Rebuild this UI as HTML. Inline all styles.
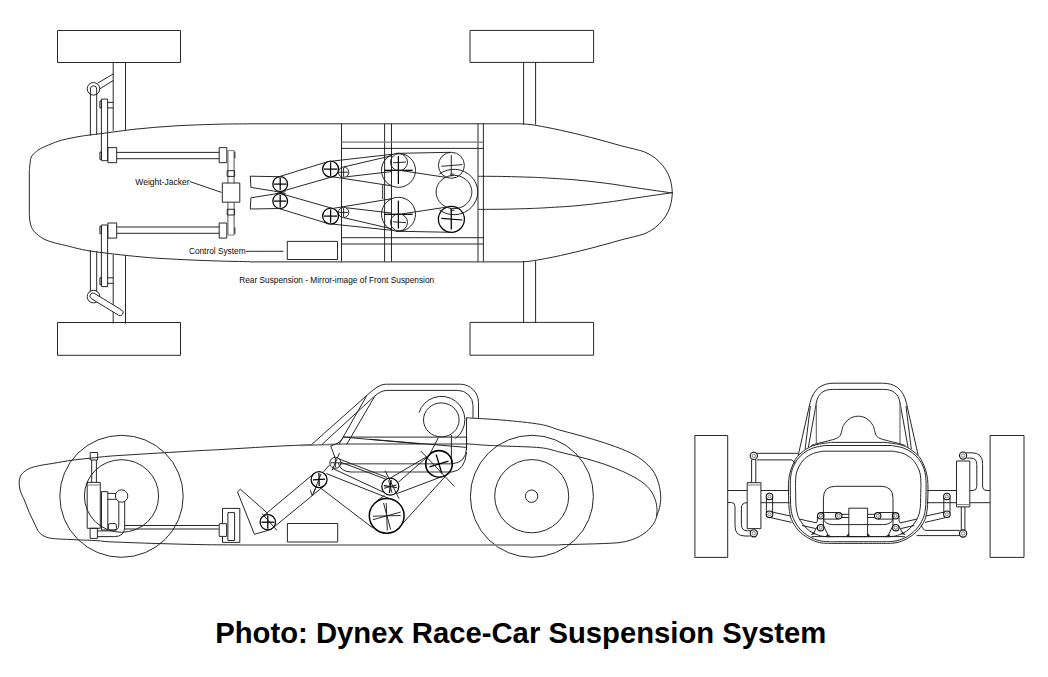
<!DOCTYPE html>
<html lang="en">
<head>
<meta charset="utf-8">
<title>Dynex Race-Car Suspension System</title>
<style>
html,body{margin:0;padding:0;background:#fff;}
body{width:1048px;height:677px;overflow:hidden;position:relative;font-family:"Liberation Sans",sans-serif;}
svg{position:absolute;left:0;top:0;display:block;}
svg *{fill:none;stroke:#1c1c1c;stroke-width:0.95;stroke-linecap:butt;stroke-linejoin:round;}
svg .g{stroke:#777;}
svg .g2{stroke:#777;stroke-width:1.5;}
svg .g3{stroke:#777;stroke-width:1.3;}
svg .wf{fill:#fff;}
svg .bf{fill:#222;stroke-width:0.5;}
svg .k2{stroke:#000;stroke-width:1.25;}
svg .k1{stroke:#111;stroke-width:1.1;}
svg .k3{stroke:#000;stroke-width:1.6;}
svg .k25{stroke:#000;stroke-width:1.5;}
svg text{fill:#0a0a0a;stroke:none;font-family:"Liberation Sans",sans-serif;}
svg text.lbl{font-size:8.5px;}
svg text.cap{font-size:29.25px;font-weight:bold;fill:#000;}
</style>
</head>
<body>
<svg width="1048" height="677" viewBox="0 0 1048 677">
<rect x="0" y="0" width="1048" height="677" style="fill:#fff;stroke:none"/>
<g id="top-view">
<rect x="57.5" y="30.5" width="123" height="32"/>
<rect x="57.5" y="322.5" width="123" height="32.8"/>
<rect x="470" y="30.4" width="123.6" height="32"/>
<rect x="470" y="322.4" width="123.6" height="32.8"/>
<line x1="29.3" y1="171.4" x2="29.3" y2="213.9"/>
<path d="M29.3 171.4 C29.5 169.7 29.9 163.6 30.3 161 C30.7 158.4 31 157.4 31.9 155.9 C32.8 154.4 34 153.4 35.5 152.2 C37 151 38.1 150 40.7 148.6 C43.3 147.2 47.5 145.4 51 144 C54.5 142.6 56.6 141.6 61.4 140.3 C66.2 139 73.5 137.5 80 136.4 C86.5 135.3 90.9 134.9 100.4 133.7 C109.9 132.5 124.6 130.3 137 129 C149.4 127.7 162 126.7 175 125.9 C188 125.1 202.5 124.7 215 124.3 C227.5 123.9 244.2 123.9 250 123.8"/>
<path d="M29.3 213.9 C29.4 215.1 29.5 218.8 29.9 221 C30.3 223.2 30.6 225.2 31.5 227.1 C32.4 229 33.1 230.6 35 232.5 C36.9 234.4 40.1 236.9 42.9 238.5 C45.7 240.1 48.2 240.9 52 242.1 C55.8 243.3 59.3 244 65.8 245.5 C72.3 247 78.6 249.2 91 251.1 C103.4 253 126 255.5 140 256.8 C154 258.2 162.5 258.5 175 259.2 C187.5 259.9 202.5 260.5 215 260.9 C227.5 261.3 244.2 261.6 250 261.7"/>
<line x1="250" y1="123.8" x2="520" y2="123.8"/>
<line x1="250" y1="261.9" x2="520" y2="261.9"/>
<path d="M520 123.8 C521.7 123.9 525.8 124 530 124.5 C534.2 125 540.2 126.1 545.3 127.1 C550.4 128 555.4 129.1 560.5 130.2 C565.6 131.3 570.7 132.5 575.8 133.7 C580.9 134.9 586 136.2 591.1 137.5 C596.2 138.8 601.2 140.2 606.3 141.6 C611.4 143 616.5 144.6 621.6 145.9 C626.7 147.2 632.8 148.6 636.9 149.7 C641 150.8 643 151.2 646 152.6 C649 154 652.4 155.9 655.2 158.1 C658 160.3 660.6 163 662.8 165.7 C665 168.4 666.8 171.2 668.2 174.1 C669.6 177 670.5 180.2 671.2 183.3 C671.9 186.5 672.2 191.4 672.4 193"/>
<path d="M520 261.9 C521.7 261.8 525.8 261.8 530 261.2 C534.2 260.6 540.2 259.6 545.3 258.6 C550.4 257.7 555.4 256.6 560.5 255.5 C565.6 254.4 570.7 253.2 575.8 252 C580.9 250.8 586 249.5 591.1 248.2 C596.2 246.9 601.2 245.5 606.3 244.1 C611.4 242.7 616.5 241.1 621.6 239.8 C626.7 238.4 632.8 237.1 636.9 236 C641 234.9 643 234.5 646 233.1 C649 231.7 652.4 229.8 655.2 227.6 C658 225.4 660.6 222.7 662.8 220 C665 217.3 666.8 214.5 668.2 211.6 C669.6 208.7 670.5 205.5 671.2 202.4 C671.9 199.2 672.2 194.3 672.4 192.7"/>
<path d="M478.5 176.3 C482.9 176.3 496.4 176.3 505 176.5 C513.6 176.7 523.3 177 530 177.2 C536.7 177.4 537.7 177.4 545.3 177.9 C552.9 178.4 565.6 179 575.8 179.9 C586 180.8 596.1 182 606.3 183.3 C616.5 184.6 625.9 186.3 636.9 187.9 C647.9 189.5 666.5 192.2 672.4 193"/>
<path d="M478.5 209.4 C482.9 209.4 496.4 209.3 505 209.2 C513.6 209 523.3 208.7 530 208.5 C536.7 208.3 537.7 208.2 545.3 207.8 C552.9 207.3 565.6 206.7 575.8 205.8 C586 204.9 596.1 203.7 606.3 202.4 C616.5 201.1 625.9 199.4 636.9 197.8 C647.9 196.2 666.5 193.5 672.4 192.7"/>
<line x1="523.6" y1="62.2" x2="523.6" y2="124.6"/>
<line x1="523.6" y1="322.8" x2="523.6" y2="261.1"/>
<line x1="535.6" y1="62.2" x2="535.6" y2="124.6"/>
<line x1="535.6" y1="322.8" x2="535.6" y2="261.1"/>
<line x1="341.5" y1="123.8" x2="341.5" y2="261.6"/>
<line x1="384.6" y1="123.8" x2="384.6" y2="261.6"/>
<line x1="391.5" y1="123.8" x2="391.5" y2="261.6"/>
<line x1="478" y1="123.8" x2="478" y2="261.6"/>
<line x1="483.4" y1="123.8" x2="483.4" y2="261.6"/>
<line x1="341.5" y1="142.2" x2="483.4" y2="142.2" class="g3"/>
<line x1="341.5" y1="148.4" x2="483.4" y2="148.4"/>
<line x1="341.5" y1="237.7" x2="483.4" y2="237.7"/>
<line x1="341.5" y1="244" x2="483.4" y2="244"/>
<line x1="382.7" y1="185" x2="382.7" y2="199"/>
<line x1="113.2" y1="62.2" x2="113.2" y2="130.8"/>
<line x1="125.5" y1="62.2" x2="125.5" y2="129.9"/>
<line x1="90.4" y1="89" x2="90.4" y2="135.6"/>
<line x1="96.7" y1="89" x2="96.7" y2="134.5"/>
<rect x="101.4" y="99.1" width="6.2" height="61.6"/>
<rect x="99.9" y="101" width="1.5" height="7"/>
<rect x="99.9" y="152" width="1.5" height="7.4"/>
<line x1="107.6" y1="102.4" x2="113.2" y2="102.4"/>
<line x1="107.6" y1="107.9" x2="113.2" y2="107.9"/>
<rect x="107.9" y="147.6" width="8.8" height="15.1"/>
<rect x="219.2" y="147.6" width="7.6" height="15.1"/>
<line x1="116.7" y1="152.4" x2="219.2" y2="152.4"/>
<line x1="116.7" y1="158.7" x2="219.2" y2="158.7"/>
<line x1="227.9" y1="150.6" x2="227.9" y2="183.2" class="g3"/>
<line x1="234.1" y1="150.6" x2="234.1" y2="183.2" class="g3"/>
<line x1="227.9" y1="150.6" x2="234.1" y2="150.6" class="g"/>
<line x1="234.9" y1="151.8" x2="234.9" y2="158.3"/>
<rect x="227.2" y="170.7" width="7.4" height="5.7"/>
<line x1="113.2" y1="323.5" x2="113.2" y2="254.9"/>
<line x1="125.5" y1="323.5" x2="125.5" y2="255.8"/>
<line x1="90.4" y1="291.4" x2="90.4" y2="250.1"/>
<line x1="96.7" y1="291.4" x2="96.7" y2="251.2"/>
<rect x="101.4" y="225" width="6.2" height="61.6"/>
<rect x="99.9" y="277.7" width="1.5" height="7"/>
<rect x="99.9" y="226.3" width="1.5" height="7.4"/>
<line x1="107.6" y1="283.3" x2="113.2" y2="283.3"/>
<line x1="107.6" y1="277.8" x2="113.2" y2="277.8"/>
<rect x="107.9" y="223" width="8.8" height="15.1"/>
<rect x="219.2" y="223" width="7.6" height="15.1"/>
<line x1="116.7" y1="233.3" x2="219.2" y2="233.3"/>
<line x1="116.7" y1="227" x2="219.2" y2="227"/>
<line x1="227.9" y1="235.1" x2="227.9" y2="202.5" class="g3"/>
<line x1="234.1" y1="235.1" x2="234.1" y2="202.5" class="g3"/>
<line x1="227.9" y1="235.1" x2="234.1" y2="235.1" class="g"/>
<line x1="234.9" y1="233.9" x2="234.9" y2="227.4"/>
<rect x="227.2" y="209.3" width="7.4" height="5.7"/>
<circle cx="93.5" cy="88.8" r="6.3"/>
<path d="M90.4 89 A3.15 3.15 0 0 1 96.7 89"/>
<line x1="97.7" y1="83.1" x2="113.2" y2="74"/>
<line x1="99.8" y1="88.9" x2="113.2" y2="80.5"/>
<circle cx="93.5" cy="296.6" r="6.3"/>
<path d="M94.6 293.5 L121.7 310 A3 3 0 0 1 118.5 315.2 L91.4 298.7 A3 3 0 0 1 94.6 293.5 Z" class="wf"/>
<rect x="222.3" y="183" width="17.5" height="19.2"/>
<rect x="287.3" y="241.4" width="50.2" height="18.1"/>
<line x1="245.8" y1="251.3" x2="283.5" y2="251.3"/>
<line x1="190" y1="181.6" x2="221.5" y2="192.4"/>
<circle cx="280.2" cy="184.1" r="7.4" class="k2"/>
<line x1="273.9" y1="184.1" x2="286.5" y2="184.1" class="k2"/>
<line x1="280.2" y1="177.8" x2="280.2" y2="190.3" class="k2"/>
<circle cx="330.6" cy="169.1" r="8" class="k2"/>
<line x1="323.8" y1="169.1" x2="337.4" y2="169.1" class="k2"/>
<line x1="330.6" y1="162.3" x2="330.6" y2="175.9" class="k2"/>
<circle cx="343.6" cy="172.2" r="5.2"/>
<line x1="339.1" y1="172.2" x2="348.1" y2="172.2"/>
<line x1="343.6" y1="167.7" x2="343.6" y2="176.7"/>
<circle cx="398.5" cy="170.3" r="17"/>
<line x1="384.1" y1="170.3" x2="412.7" y2="170.3" class="k2"/>
<line x1="398.4" y1="156" x2="398.4" y2="184" class="k2"/>
<circle cx="399" cy="162.2" r="8.5"/>
<line x1="393" y1="162.8" x2="406" y2="162"/>
<circle cx="451.4" cy="165.3" r="13"/>
<line x1="441.3" y1="166.3" x2="462.3" y2="164.6"/>
<line x1="451.3" y1="155" x2="451.2" y2="176.5"/>
<line x1="450.4" y1="174.2" x2="454.4" y2="174.2"/>
<line x1="282.2" y1="191.2" x2="332.8" y2="176.7"/>
<line x1="278" y1="177" x2="328.3" y2="161.5"/>
<path d="M279.5 176.7 L250.3 176.2 L250.9 187.4 L273.5 191 L285.5 193.6"/>
<line x1="331.5" y1="161.2" x2="392.7" y2="154.2"/>
<line x1="343.9" y1="166.9" x2="391.2" y2="155.9"/>
<line x1="346.5" y1="176.8" x2="391.2" y2="171.6"/>
<line x1="402" y1="170.7" x2="445.4" y2="177.3"/>
<line x1="333" y1="176.8" x2="391.2" y2="185.8"/>
<line x1="396" y1="153.4" x2="450.9" y2="152.3"/>
<circle cx="280.2" cy="201.1" r="7.4" class="k2"/>
<line x1="273.9" y1="201.1" x2="286.5" y2="201.1" class="k2"/>
<line x1="280.2" y1="194.9" x2="280.2" y2="207.4" class="k2"/>
<circle cx="330.6" cy="216.1" r="8" class="k2"/>
<line x1="323.8" y1="216.1" x2="337.4" y2="216.1" class="k2"/>
<line x1="330.6" y1="209.3" x2="330.6" y2="222.9" class="k2"/>
<circle cx="343.6" cy="212.4" r="5.2"/>
<line x1="339.1" y1="212.4" x2="348.1" y2="212.4"/>
<line x1="343.6" y1="207.9" x2="343.6" y2="216.9"/>
<circle cx="398.5" cy="214.3" r="17"/>
<line x1="384.1" y1="214.3" x2="412.7" y2="214.3" class="k2"/>
<line x1="398.4" y1="228.6" x2="398.4" y2="200.6" class="k2"/>
<circle cx="399" cy="222.4" r="8.5"/>
<line x1="393" y1="221.8" x2="406" y2="222.6"/>
<circle cx="451.4" cy="219.3" r="13" class="k2"/>
<line x1="441.3" y1="218.3" x2="462.3" y2="220" class="k2"/>
<line x1="451.3" y1="229.6" x2="451.2" y2="208.1" class="k2"/>
<line x1="450.4" y1="210.4" x2="454.4" y2="210.4"/>
<line x1="278" y1="208.2" x2="328.3" y2="223.7"/>
<line x1="282.2" y1="194" x2="332.8" y2="208.5"/>
<path d="M279.5 208.5 L250.3 209 L250.9 197.8 L273.5 194.2 L285.5 191.6"/>
<line x1="331.5" y1="224" x2="392.7" y2="230.4"/>
<line x1="343.9" y1="217.7" x2="391.2" y2="228.7"/>
<line x1="346.5" y1="207.8" x2="391.2" y2="213"/>
<line x1="402" y1="213.9" x2="445.4" y2="207.3"/>
<line x1="333" y1="208.4" x2="391.2" y2="198.8"/>
<line x1="396" y1="231.2" x2="450.9" y2="232.3"/>
<ellipse cx="454" cy="192" rx="17.9" ry="16.7"/>
<path d="M439.4 174.1 A23.7 22.7 0 1 1 439.4 209.9"/>
</g>
<g id="side-view">
<ellipse cx="121.5" cy="496.3" rx="61.7" ry="61"/>
<ellipse cx="121.5" cy="496" rx="37.1" ry="36.3"/>
<ellipse cx="531.9" cy="496.3" rx="61.5" ry="61"/>
<ellipse cx="531.7" cy="496.2" rx="37" ry="36.6"/>
<circle cx="531.6" cy="496.2" r="6.2"/>
<path d="M311 444.7 C307.5 444.9 296.8 445.3 290 445.6 C283.2 445.9 276.7 446.2 270 446.6 C263.3 447 258.3 447.3 250 447.8 C241.7 448.3 228.3 449.1 220 449.6 C211.7 450.1 209.2 450.1 200 450.6 C190.8 451.1 174.6 452.1 164.6 452.7 C154.6 453.3 149.1 453.6 140 454.2 C130.9 454.8 118.2 455.5 110 456.1 C101.8 456.8 97.4 457.4 91.1 458.1 C84.8 458.8 78.4 459.3 72 460.2 C65.6 461.1 58.5 462.5 52.9 463.4 C47.3 464.3 42.6 464.9 38.6 465.8 C34.6 466.7 31.8 467.3 29.1 468.6 C26.4 469.9 24 471.6 22.4 473.4 C20.8 475.1 20 477.2 19.5 479.1 C19 481 19.1 482.7 19.3 484.8 C19.5 486.9 19.7 489 20.5 491.5 C21.3 494 23.7 498.6 24.3 500"/>
<path d="M24.3 500 L29.1 512.2 L37.7 530.3"/>
<path d="M37.7 530.3 C38.3 531 39.8 533.4 41.5 534.6 C43.2 535.8 45.5 537 48.2 537.7 C50.9 538.4 52.9 538.5 57.7 538.9 C62.5 539.2 70.4 539.5 76.8 539.8 C83.2 540.1 90.4 540.3 95.9 540.6 C101.4 540.9 101 541.3 110 541.8 C119 542.2 135 542.8 150 543.3 C165 543.8 185 544.3 200 544.6 C215 544.9 233.3 544.9 240 544.9"/>
<line x1="240" y1="544.9" x2="560" y2="544.9" class="g2"/>
<path d="M560 544.7 C563.7 544.6 574.7 544.4 582.1 544.2 C589.5 544 597.6 543.8 604.3 543.5 C610.9 543.2 616.8 543.1 622 542.2 C627.2 541.4 631.2 540.1 635.3 538.4 C639.3 536.7 643.2 534.4 646.3 531.8 C649.4 529.2 652.2 525.9 654.1 522.9 C656 519.9 656.9 515.5 657.4 514"/>
<path d="M466.5 417.8 C472.6 418.2 490.5 419 502.8 420.1 C515.1 421.2 530.9 422.7 540.4 424.4 C549.9 426.1 553 428.2 560 430.2 C567 432.1 574.7 434 582.1 436.1 C589.5 438.2 596.9 440.3 604.3 442.8 C611.7 445.3 620.1 448.2 626.4 451 C632.7 453.8 637.5 456.5 641.9 459.8 C646.3 463.1 650.2 467 653 470.9 C655.8 474.8 657.2 478.9 658.5 483.1 C659.8 487.3 660.5 492.2 660.7 496.3 C660.9 500.4 660.2 504.4 659.6 507.4 C659 510.3 657.8 512.9 657.4 514"/>
<path d="M466.5 443.8 C469.6 444 478.9 444.8 485 445.2 C491.1 445.6 493.6 445.6 502.8 446 C512 446.4 530.9 446.7 540.4 447.7 C549.9 448.7 553 450.5 560 452.1 C567 453.8 574.7 455.6 582.1 457.6 C589.5 459.6 596.9 461.6 604.3 464.2 C611.7 466.8 620.1 470.1 626.4 473.1 C632.7 476.1 637.8 479.1 641.9 482 C646 484.9 648.5 487.7 650.8 490.8 C653.1 493.9 654.6 497.7 655.6 500.8 C656.6 503.9 656.9 507 657 509.6 C657.1 512.2 656.6 515.2 656.5 516.3"/>
<line x1="466.5" y1="417.5" x2="466.5" y2="450"/>
<line x1="300" y1="445.6" x2="343" y2="444" class="g2"/>
<line x1="343" y1="443.9" x2="466.5" y2="443.9" class="g2"/>
<line x1="343.7" y1="437.1" x2="466.5" y2="437.1"/>
<line x1="343.7" y1="437.1" x2="420" y2="443.9"/>
<line x1="370" y1="439.3" x2="466.6" y2="447.4"/>
<path d="M330.7 445.9 C331.8 445.5 335.3 444.4 337 443.5 C338.7 442.6 339.9 441.4 341 440.3 C342.1 439.2 343.2 437.6 343.7 437.1"/>
<line x1="330.7" y1="445.9" x2="335.4" y2="458.6"/>
<path d="M311.2 444.9 L366.5 395.7 Q378.5 384.2 385.5 384.2 H460.2 A18.3 18.3 0 0 1 478.5 402.5 V418.3"/>
<path d="M321.8 444.6 L373.5 397.1 Q380.8 390.4 387 390.4 H457.9 A15.1 15.1 0 0 1 473 405.5 V417.8"/>
<line x1="339" y1="444.4" x2="366.7" y2="395.7"/>
<line x1="346.7" y1="444.4" x2="374.4" y2="396.8"/>
<ellipse cx="441.3" cy="419.9" rx="17.8" ry="17"/>
<path d="M419 412.6 A23.5 23.5 0 1 1 455.4 438.7"/>
<line x1="451.4" y1="435" x2="451.4" y2="464"/>
<line x1="438.4" y1="437.6" x2="429" y2="455.7"/>
<line x1="340" y1="463.7" x2="452.5" y2="463.7" class="g2"/>
<line x1="350.8" y1="472" x2="452" y2="472" class="g2"/>
<path d="M338.4 463.3 Q340.5 471.5 350.8 472"/>
<path d="M466.6 437.1 V448 Q466 462.5 452.5 463.7"/>
<path d="M466.6 452 Q465 470.5 452 472"/>
<circle cx="267.8" cy="522.2" r="7.7" class="k2"/>
<line x1="261.3" y1="522.2" x2="274.3" y2="522.2" class="k2"/>
<line x1="267.8" y1="515.7" x2="267.8" y2="528.7" class="k2"/>
<line x1="262" y1="513.5" x2="277" y2="530.5"/>
<circle cx="319.1" cy="479.6" r="8" class="k2"/>
<line x1="313" y1="479.8" x2="325.1" y2="479.2" class="k2"/>
<line x1="318.9" y1="473" x2="319.2" y2="486" class="k2"/>
<line x1="321" y1="473.9" x2="313.6" y2="493.1"/>
<circle cx="335.3" cy="462.8" r="5.5"/>
<line x1="330.6" y1="462.8" x2="340" y2="462.8"/>
<line x1="335.3" y1="458.1" x2="335.3" y2="467.5"/>
<line x1="339.5" y1="453" x2="332" y2="470.5"/>
<circle cx="390.3" cy="486.6" r="8.5" class="k2"/>
<line x1="383.9" y1="485.7" x2="396.7" y2="487.5" class="k2"/>
<line x1="391.2" y1="480.2" x2="389.4" y2="493" class="k2"/>
<line x1="384" y1="488.3" x2="396.6" y2="484.9"/>
<line x1="388.6" y1="480.3" x2="392" y2="492.9"/>
<circle cx="386.7" cy="515.8" r="17.4" class="k25"/>
<line x1="386.2" y1="502.9" x2="387.3" y2="530.6"/>
<line x1="383.5" y1="502.9" x2="390.6" y2="529.5"/>
<line x1="372.9" y1="516.2" x2="400.6" y2="515.5"/>
<line x1="372.9" y1="519.7" x2="400.6" y2="512.1"/>
<line x1="384.5" y1="495.3" x2="376.5" y2="501.2"/>
<circle cx="439" cy="463.9" r="13.3" class="k3"/>
<line x1="429.5" y1="466.8" x2="448.5" y2="461.2" class="k2"/>
<line x1="436.2" y1="454.5" x2="441.8" y2="473.5" class="k2"/>
<line x1="420.8" y1="451" x2="454.4" y2="486.4"/>
<path d="M268.2 513.8 L240.3 489.2 L237.5 491.9 L254.4 534.3 L272 529.2"/>
<line x1="272.7" y1="528.1" x2="324.2" y2="485.8"/>
<line x1="262.9" y1="516.3" x2="314" y2="473.5"/>
<line x1="323.6" y1="471.8" x2="329.4" y2="465.1"/>
<line x1="385.1" y1="470.7" x2="399" y2="498.7"/>
<path d="M310.3 490.1 L312.1 495.6 L315.4 488.6"/>
<line x1="326.3" y1="473.6" x2="393" y2="500"/>
<line x1="320" y1="487.6" x2="372.9" y2="528"/>
<line x1="338.8" y1="458.9" x2="386.9" y2="477.4"/>
<line x1="333.1" y1="468.7" x2="383.5" y2="492.2"/>
<line x1="340.8" y1="462.2" x2="385.8" y2="479.2"/>
<line x1="390.7" y1="477.9" x2="427.9" y2="456"/>
<line x1="398.3" y1="482.2" x2="426.7" y2="457.4"/>
<line x1="397.2" y1="493.5" x2="440.9" y2="477"/>
<line x1="399.5" y1="527" x2="447.4" y2="474"/>
<rect x="287.4" y="523.5" width="50.3" height="18.5"/>
<rect x="90.2" y="452.5" width="7.4" height="7.5"/>
<line x1="91.7" y1="460" x2="91.7" y2="482.4"/>
<line x1="96.4" y1="460" x2="96.4" y2="482.4"/>
<rect x="87.2" y="482.4" width="13.1" height="45.9"/>
<line x1="87.2" y1="485" x2="100.3" y2="485" class="g"/>
<rect x="90.1" y="528.3" width="7.3" height="10.1"/>
<rect x="101.5" y="491.6" width="6.3" height="38.4"/>
<line x1="107.8" y1="493.4" x2="116" y2="493.4"/>
<line x1="107.8" y1="499.3" x2="116.4" y2="499.3"/>
<circle cx="121.6" cy="496" r="6.2"/>
<path d="M118.8 501.6 V525 Q118.6 530.9 112.5 530.9 H97.4"/>
<path d="M124.7 501.3 V527 Q124.5 536.6 114.5 536.6 H97.4"/>
<rect x="108.4" y="523.6" width="8" height="6.2" rx="1.5"/>
<line x1="124.7" y1="525.5" x2="218.8" y2="525.5"/>
<line x1="124.7" y1="529" x2="218.8" y2="529"/>
<rect x="222.5" y="508.4" width="17.3" height="34"/>
<rect x="227.9" y="512.6" width="6.7" height="27.9"/>
<rect x="219.2" y="523.7" width="7.4" height="12.7" class="wf"/>
</g>
<g id="front-view">
<rect x="694.9" y="435.5" width="32.8" height="121.9"/>
<rect x="990.1" y="435.5" width="33.9" height="121.9"/>
<path d="M831.5 442.4 C829.3 442.7 822 443.4 818.2 444.3 C814.4 445.2 811.8 445.9 808.6 447.7 C805.4 449.4 801.5 452.5 799.1 454.8 C796.7 457.1 795.7 458.8 794.3 461.5 C792.9 464.2 791.4 468 790.5 471 C789.6 474 789.1 476.4 788.8 479.6 C788.4 482.8 788.4 486.6 788.4 490 C788.4 493.4 788.6 496.8 788.7 500 C788.8 503.2 788.7 505.8 789.2 509.1 C789.7 512.4 790 516.1 791.5 519.6 C793 523.1 795.5 527.1 798.2 530.1 C800.9 533.1 804.5 535.7 807.7 537.7 C810.9 539.7 814.2 541.1 817.3 542 C820.3 542.9 822.2 543.1 826 543.3 C829.8 543.5 831.6 543.4 840 543.4 C848.4 543.4 868 543.4 876.4 543.4 C884.8 543.4 886.6 543.5 890.4 543.3 C894.2 543.1 896.1 542.9 899.1 542 C902.2 541.1 905.5 539.7 908.7 537.7 C911.9 535.7 915.5 533.1 918.2 530.1 C920.9 527.1 923.4 523.1 924.9 519.6 C926.4 516.1 926.7 512.4 927.2 509.1 C927.7 505.8 927.6 503.2 927.7 500 C927.8 496.8 928 493.4 928 490 C928 486.6 928 482.8 927.6 479.6 C927.3 476.4 926.8 474 925.9 471 C925 468 923.5 464.2 922.1 461.5 C920.7 458.8 919.7 457.1 917.3 454.8 C914.9 452.5 911 449.4 907.8 447.7 C904.6 445.9 902 445.2 898.2 444.3 C894.4 443.4 887.1 442.7 884.9 442.4"/>
<line x1="831.5" y1="442.4" x2="884.9" y2="442.4"/>
<path d="M824.8 445.5 C822.9 445.9 816.9 446.7 813.4 447.9 C809.9 449.1 806.6 450.9 803.9 452.9 C801.2 454.8 799.1 457.1 797.2 459.6 C795.3 462.2 793.7 465.2 792.6 468.2 C791.5 471.2 791 474.1 790.6 477.7 C790.2 481.3 790.3 486.3 790.3 490 C790.3 493.7 790.4 496.8 790.5 500 C790.6 503.2 790.5 505.9 791 509 C791.5 512.1 791.9 515.2 793.4 518.6 C794.9 522 797.3 526.1 800 529.1 C802.7 532.1 806.4 534.9 809.6 536.8 C812.8 538.7 816.1 539.8 819.2 540.6 C822.3 541.4 824.5 541.4 828 541.6 C831.5 541.8 831.9 541.7 840 541.7 C848.1 541.7 868.3 541.7 876.4 541.7 C884.5 541.7 884.9 541.8 888.4 541.6 C891.9 541.4 894.1 541.4 897.2 540.6 C900.3 539.8 903.6 538.7 906.8 536.8 C910 534.9 913.7 532.1 916.4 529.1 C919.1 526.1 921.5 522 923 518.6 C924.5 515.2 924.9 512.1 925.4 509 C925.9 505.9 925.8 503.2 925.9 500 C926 496.8 926.1 493.7 926.1 490 C926.1 486.3 926.2 481.3 925.8 477.7 C925.4 474.1 924.9 471.2 923.8 468.2 C922.7 465.2 921.1 462.2 919.2 459.6 C917.3 457.1 915.2 454.8 912.5 452.9 C909.8 450.9 906.5 449.1 903 447.9 C899.5 446.7 893.5 445.9 891.6 445.5"/>
<line x1="824.8" y1="445.5" x2="891.6" y2="445.5"/>
<path d="M822.9 451.2 C821.3 451.6 816.4 452.2 813.4 453.4 C810.4 454.6 807.2 456.5 804.8 458.6 C802.4 460.8 800.5 463.8 799.1 466.3 C797.7 468.9 796.8 471 796.2 473.9 C795.6 476.8 795.6 480.7 795.5 483.4 C795.4 486.1 795.6 487.2 795.6 490 C795.6 492.8 795.7 497.1 795.8 500 C795.9 502.9 795.7 504.4 796.1 507.2 C796.5 510 797.1 513.8 798.2 516.7 C799.4 519.6 801.1 522 803 524.4 C804.9 526.8 807.2 529.3 809.6 531 C812 532.7 814.8 533.9 817.3 534.8 C819.8 535.7 821.1 536.2 824.9 536.5 C828.7 536.8 831.4 536.6 840 536.6 C848.6 536.6 867.8 536.6 876.4 536.6 C885 536.6 887.7 536.8 891.5 536.5 C895.3 536.2 896.6 535.7 899.1 534.8 C901.7 533.9 904.4 532.7 906.8 531 C909.2 529.3 911.5 526.8 913.4 524.4 C915.3 522 917.1 519.6 918.2 516.7 C919.4 513.8 919.9 510 920.3 507.2 C920.7 504.4 920.5 502.9 920.6 500 C920.7 497.1 920.8 492.8 920.8 490 C920.9 487.2 921 486.1 920.9 483.4 C920.8 480.7 920.8 476.8 920.2 473.9 C919.6 471 918.7 468.9 917.3 466.3 C915.9 463.8 914 460.8 911.6 458.6 C909.2 456.5 906 454.6 903 453.4 C900 452.2 895.1 451.6 893.5 451.2"/>
<line x1="822.9" y1="451.2" x2="893.5" y2="451.2"/>
<line x1="810.1" y1="402.6" x2="798.2" y2="455.4"/>
<line x1="810.4" y1="406" x2="805.1" y2="449.1"/>
<line x1="816.4" y1="402.6" x2="808.3" y2="447.5"/>
<line x1="816.4" y1="402.6" x2="816.4" y2="443.6" class="g3"/>
<line x1="906.3" y1="402.6" x2="918.2" y2="455.4"/>
<line x1="906" y1="406" x2="911.3" y2="449.1"/>
<line x1="900" y1="402.6" x2="908.1" y2="447.5"/>
<line x1="900" y1="402.6" x2="900" y2="443.6" class="g3"/>
<path d="M810.1 402.6 C813.5 388.5 822 383.2 834 383.2 H882.4 C894.4 383.2 902.9 388.5 906.3 402.6"/>
<path d="M816.4 402.6 C817.8 393.5 824 389.4 832.7 389.4 H883.7 C892.4 389.4 898.6 393.5 900 402.6"/>
<path d="M811 445.6 C811.9 445.3 813.6 444.6 816.4 443.8 C819.2 443 824.4 441.9 827.7 441 C831.1 440.1 834.4 439.3 836.5 438.4 C838.6 437.4 839.4 436.6 840.3 435.3 C841.2 434 841.4 431.9 841.9 430.3 C842.4 428.7 842.4 427.2 843.4 425.5 C844.4 423.8 846.1 421.4 847.7 420 C849.3 418.6 851.4 417.6 853.1 417 C854.9 416.4 856.5 416.2 858.2 416.2 C859.9 416.2 861.6 416.4 863.3 417 C865.1 417.6 867.1 418.6 868.7 420 C870.3 421.4 872 423.8 873 425.5 C874 427.2 874 428.7 874.5 430.3 C875 431.9 875.2 434 876.1 435.3 C877 436.6 877.8 437.4 879.9 438.4 C882 439.3 885.4 440.1 888.7 441 C892.1 441.9 897.2 443 900 443.8 C902.8 444.6 904.5 445.3 905.4 445.6"/>
<path d="M823.4 498.3 Q823.4 486.3 835.4 486.3 H881 Q893 486.3 893 498.3"/>
<path d="M823.4 498.3 V517.7 Q824 524.6 833.5 524.6 H882.9 Q892.4 524.6 893 517.7 V498.3"/>
<rect x="848.8" y="508.2" width="18.8" height="28.4"/>
<line x1="811.5" y1="536.6" x2="904.9" y2="536.6"/>
<circle cx="820.8" cy="515.8" r="3.2" class="k1"/>
<circle cx="820.8" cy="515.8" r="1.5" class="g"/>
<circle cx="838.7" cy="515.8" r="3.2" class="k1"/>
<circle cx="838.7" cy="515.8" r="1.5" class="g"/>
<circle cx="820.6" cy="527.7" r="3.2" class="k1"/>
<circle cx="820.6" cy="527.7" r="1.5" class="g"/>
<line x1="820.8" y1="512.5" x2="838.7" y2="512.5"/>
<line x1="823" y1="519.1" x2="838.7" y2="519.1"/>
<line x1="842" y1="514.3" x2="848.8" y2="514.3"/>
<line x1="842" y1="517.5" x2="848.8" y2="517.5"/>
<path d="M813.8 533 L817.8 525.6"/>
<path d="M823.4 517.7 L823.4 525.3 L828.6 536.4"/>
<path d="M814 532.2 L811.2 534.6 L814.8 534 Z" class="bf"/>
<path d="M827.3 534.6 L826 536.6 L831 536.6 Z" class="bf"/>
<path d="M848.8 533.5 L848.8 536.6 L846 536.6 Z" class="bf"/>
<line x1="772.4" y1="512.1" x2="790.5" y2="516"/>
<line x1="771" y1="517.7" x2="791.5" y2="522.4"/>
<path d="M799.6 519.1 L816.3 522.9 L817.4 521 L817.4 516"/>
<line x1="802" y1="525.5" x2="815.8" y2="528.6"/>
<circle cx="769.5" cy="496.5" r="3.3" class="k1"/>
<circle cx="769.5" cy="496.5" r="1.5" class="g"/>
<circle cx="769.5" cy="514.3" r="3.3" class="k1"/>
<circle cx="769.5" cy="514.3" r="1.5" class="g"/>
<line x1="766.4" y1="498" x2="766.4" y2="513"/>
<line x1="772.6" y1="498" x2="772.6" y2="513"/>
<circle cx="895.6" cy="515.8" r="3.2" class="k1"/>
<circle cx="895.6" cy="515.8" r="1.5" class="g"/>
<circle cx="877.7" cy="515.8" r="3.2" class="k1"/>
<circle cx="877.7" cy="515.8" r="1.5" class="g"/>
<circle cx="895.8" cy="527.7" r="3.2" class="k1"/>
<circle cx="895.8" cy="527.7" r="1.5" class="g"/>
<line x1="895.6" y1="512.5" x2="877.7" y2="512.5"/>
<line x1="893.4" y1="519.1" x2="877.7" y2="519.1"/>
<line x1="874.4" y1="514.3" x2="867.6" y2="514.3"/>
<line x1="874.4" y1="517.5" x2="867.6" y2="517.5"/>
<path d="M902.6 533 L898.6 525.6"/>
<path d="M893 517.7 L893 525.3 L887.8 536.4"/>
<path d="M902.4 532.2 L905.2 534.6 L901.6 534 Z" class="bf"/>
<path d="M889.1 534.6 L890.4 536.6 L885.4 536.6 Z" class="bf"/>
<path d="M867.6 533.5 L867.6 536.6 L870.4 536.6 Z" class="bf"/>
<line x1="944" y1="512.1" x2="925.9" y2="516"/>
<line x1="945.4" y1="517.7" x2="924.9" y2="522.4"/>
<path d="M916.8 519.1 L900.1 522.9 L899 521 L899 516"/>
<line x1="914.4" y1="525.5" x2="900.6" y2="528.6"/>
<circle cx="946.9" cy="496.5" r="3.3" class="k1"/>
<circle cx="946.9" cy="496.5" r="1.5" class="g"/>
<circle cx="946.9" cy="514.3" r="3.3" class="k1"/>
<circle cx="946.9" cy="514.3" r="1.5" class="g"/>
<line x1="950" y1="498" x2="950" y2="513"/>
<line x1="943.8" y1="498" x2="943.8" y2="513"/>
<line x1="727.7" y1="490.5" x2="747.2" y2="490.5"/>
<line x1="760.9" y1="490.5" x2="789.2" y2="490.5"/>
<line x1="760.9" y1="502.7" x2="789.5" y2="502.7"/>
<path d="M741.4 508 Q741.4 502.7 747.2 502.7"/>
<rect x="747.2" y="482.7" width="13.7" height="45.9"/>
<line x1="747.2" y1="485" x2="760.9" y2="485" class="g"/>
<line x1="751.6" y1="459.5" x2="751.6" y2="482.7"/>
<line x1="755.8" y1="459.5" x2="755.8" y2="482.7"/>
<circle cx="753.8" cy="455.9" r="3.6" class="k1"/>
<circle cx="753.8" cy="455.9" r="1.7" class="g"/>
<circle cx="753.8" cy="533.3" r="3.6" class="k1"/>
<circle cx="753.8" cy="533.3" r="1.7" class="g"/>
<line x1="756.5" y1="453.3" x2="798" y2="453.3"/>
<line x1="757" y1="459.9" x2="792" y2="459.9"/>
<line x1="792" y1="459.9" x2="795.3" y2="463.4"/>
<path d="M727.7 502.5 H731.5 Q735 502.7 735 506.5 V526 Q735 536 745 536 H750.6"/>
<path d="M741.4 508 V524.5 Q741.4 530.8 747.5 530.8 H751"/>
<line x1="927.2" y1="490.5" x2="956.5" y2="490.5"/>
<line x1="926.9" y1="502.7" x2="956.5" y2="502.7"/>
<line x1="969.8" y1="502.7" x2="990.1" y2="502.7"/>
<rect x="956.5" y="461" width="13.3" height="45.9"/>
<line x1="956.5" y1="504.6" x2="969.8" y2="504.6" class="g"/>
<line x1="961.3" y1="506.9" x2="961.3" y2="530"/>
<line x1="964.9" y1="506.9" x2="964.9" y2="530"/>
<circle cx="963.1" cy="455.6" r="3.6" class="k1"/>
<circle cx="963.1" cy="455.6" r="1.7" class="g"/>
<circle cx="963.1" cy="533.5" r="3.6" class="k1"/>
<circle cx="963.1" cy="533.5" r="1.7" class="g"/>
<path d="M966 452.8 H972 Q982.6 452.8 982.6 463.5 V486 Q982.6 490.5 987 490.5 H990.1"/>
<path d="M966.5 458.1 H971 Q976.8 458.1 976.8 464.5 V486.5 Q976.8 490.5 973 490.5 H969.8"/>
<path d="M959.7 530.4 H926 Q922.5 530 921.2 524.8"/>
<line x1="960" y1="535.6" x2="916.5" y2="535.6"/>
</g>
<text class="lbl" x="135.3" y="184.9">Weight-Jacker</text>
<text class="lbl" style="font-size:8.3px" x="188.9" y="254.3">Control System</text>
<text class="lbl" style="font-size:8.32px" x="239.2" y="282.7">Rear Suspension - Mirror-image of Front Suspension</text>
<text class="cap" x="215.2" y="643">Photo: Dynex Race-Car Suspension System</text>
</svg>
</body>
</html>
